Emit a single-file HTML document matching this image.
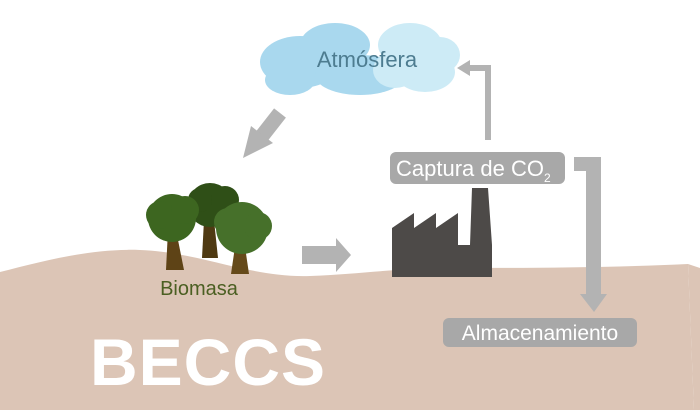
<!DOCTYPE html>
<html><head><meta charset="utf-8"><style>
html,body{margin:0;padding:0;background:#fff;width:700px;height:410px;overflow:hidden}
svg{display:block}
text{font-family:"Liberation Sans",sans-serif}
</style></head><body>
<svg width="700" height="410" viewBox="0 0 700 410">
<path d="M0 272 C40 262 90 248 140 250 C200 252 250 278 310 276 C360 274 400 268 450 268 C520 268 600 268 688 264 L694 410 L0 410 Z" fill="#dcc5b6"/>
<path d="M688 264 L700 268 L700 410 L694 410 Z" fill="#dcc5b6"/>
<g fill="#a9d8ee">
<ellipse cx="300" cy="62" rx="40" ry="26"/>
<ellipse cx="335" cy="45" rx="35" ry="22"/>
<ellipse cx="360" cy="75" rx="45" ry="20"/>
<ellipse cx="290" cy="80" rx="25" ry="15"/>
</g>
<g fill="#cdebf6">
<ellipse cx="410" cy="45" rx="32" ry="22"/>
<ellipse cx="425" cy="72" rx="30" ry="20"/>
<ellipse cx="440" cy="55" rx="20" ry="18"/>
<ellipse cx="395" cy="70" rx="22" ry="18"/>
</g>
<text x="367" y="67" font-size="22" fill="#4d7c90" text-anchor="middle">Atmósfera</text>
<path d="M488 140 V68 H468" fill="none" stroke="#b3b3b3" stroke-width="6"/>
<path d="M457 68 L470 60 L470 76 Z" fill="#b3b3b3"/>
<path d="M280 113 L262 136" stroke="#b3b3b3" stroke-width="15"/>
<path d="M243 158 L251 126 L273 143 Z" fill="#b3b3b3"/>
<path d="M302 246 H336 V238 L351 255 L336 272 V264 H302 Z" fill="#b3b3b3"/>
<rect x="390" y="152" width="175" height="32" rx="6" fill="#a8a8a8"/>
<text x="396" y="176" font-size="22" fill="#fff">Captura de CO<tspan font-size="12" dy="6">2</tspan></text>
<path d="M574 157 H601 V296 H586 V171 H574 Z" fill="#b3b3b3"/>
<path d="M580 294 L607 294 L594 312 Z" fill="#b3b3b3"/>
<rect x="443" y="318" width="194" height="29" rx="6" fill="#a8a8a8"/>
<text x="540" y="340" font-size="21" fill="#fff" text-anchor="middle">Almacenamiento</text>
<path d="M392 277 V228 L414 213 V228 L436 213 V228 L458 213 V245 H470 L472 188 H488 L492 245 V277 Z" fill="#4d4a48"/>
<g>
<path d="M168 230 L176 230 L184 270 L166 270 Z" fill="#5e4316"/>
<path d="M204 220 L214 220 L218 258 L202 258 Z" fill="#4f3a12"/>
<path d="M236 240 L244 240 L249 274 L231 274 Z" fill="#654a1a"/>
<g fill="#2f4f17"><circle cx="210" cy="205" r="22"/><circle cx="200" cy="200" r="12"/><circle cx="225" cy="200" r="14"/></g>
<g fill="#3d6620"><circle cx="172" cy="218" r="24"/><circle cx="160" cy="215" r="14"/><circle cx="185" cy="210" r="14"/></g>
<g fill="#46702a"><circle cx="242" cy="228" r="26"/><circle cx="228" cy="222" r="14"/><circle cx="258" cy="226" r="14"/></g>
</g>
<text x="199" y="295" font-size="20" fill="#4b5f22" text-anchor="middle">Biomasa</text>
<text x="90" y="385" font-size="66" font-weight="bold" fill="#fff" letter-spacing="1">BECCS</text>
</svg>
</body></html>
